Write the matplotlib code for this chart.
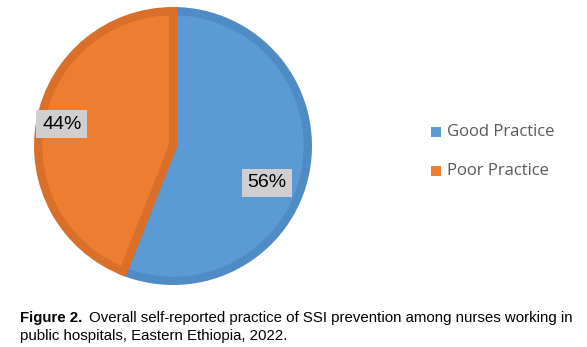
import matplotlib.pyplot as plt

# practice categories and their shares (%)
categories = ["Good Practice", "Poor Practice"]
shares = [56, 44]
fill_colors = ["#5B9BD5", "#ED7D31"]
edge_colors = ["#4F8BC4", "#D96F29"]

caption_head = "Figure 2."
caption_line1 = "Overall self-reported practice of SSI prevention among nurses working in"
caption_line2 = "public hospitals, Eastern Ethiopia, 2022."

W, H = 587, 347
fig = plt.figure(figsize=(W / 100, H / 100), dpi=100)

# pie axes: centre (173, 146) px, outer radius 139 px
cx, cy, r = 173, 146, 139
ax = fig.add_axes([(cx - r) / W, (H - cy - r) / H, 2 * r / W, 2 * r / H])

wedges, _ = ax.pie(shares, colors=fill_colors, startangle=90, counterclock=False,
                   radius=0.97, center=(0, 0), frame=False,
                   wedgeprops=dict(linewidth=6))
for w, ec in zip(wedges, edge_colors):
    w.set_edgecolor(ec)
    w.set_joinstyle("miter")

ax.set_xlim(-1, 1)
ax.set_ylim(-1, 1)
ax.set_aspect("equal")
ax.axis("off")

# percentage labels in grey boxes
label_pos = [(0.676, -0.266), (-0.80, 0.158)]
for (x, y), v in zip(label_pos, shares):
    ax.text(x, y, f"{v}%", ha="center", va="center", fontsize=14,
            family="Liberation Sans", color="#000000",
            bbox=dict(boxstyle="square,pad=0.3", fc="#D0CECE", ec="none"))

# legend
for i, (lab, c) in enumerate(zip(categories, fill_colors)):
    yy = 1 - (132 + 39 * i) / H
    fig.patches.append(plt.Rectangle((431 / W, yy - 5 / H), 10 / W, 10 / H,
                                     transform=fig.transFigure, fc=c, ec="none"))
    fig.text(447 / W, yy, lab, ha="left", va="center", fontsize=12,
             family="Open Sans", color="#595959")

# caption, first line justified between x=20 and x=573 px
fs = 10.5
y1, y2 = 1 - 318 / H, 1 - 336 / H
head = fig.text(20 / W, y1, caption_head, ha="left", va="center", fontsize=fs,
                family="Liberation Sans", weight="bold", color="#000000")
rest = fig.text(573 / W, y1, caption_line1, ha="right", va="center", fontsize=fs,
                family="Liberation Sans", color="#000000")
fig.canvas.draw()
rend = fig.canvas.get_renderer()
need = head.get_window_extent(rend).width + rest.get_window_extent(rend).width + 4
fs *= 553 / need
head.set_fontsize(fs)
rest.set_fontsize(fs)
fig.text(20 / W, y2, caption_line2, ha="left", va="center", fontsize=fs,
         family="Liberation Sans", color="#000000")

fig.savefig("out.png", dpi=100, facecolor="white")
